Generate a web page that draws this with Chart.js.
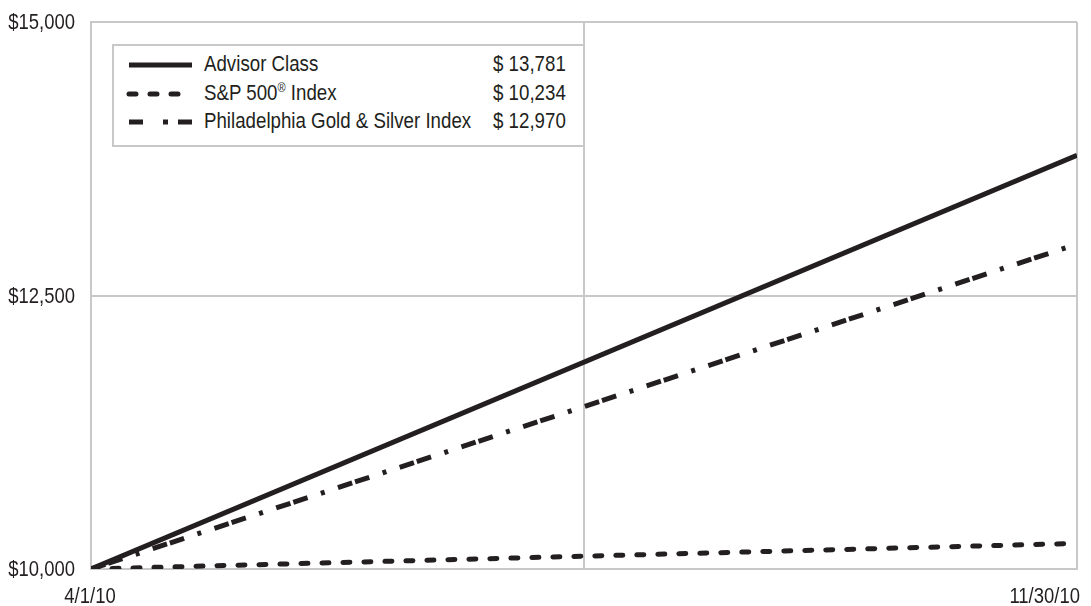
<!DOCTYPE html>
<html>
<head>
<meta charset="utf-8">
<script src="https://cdn.jsdelivr.net/npm/chart.js@4.4.1/dist/chart.umd.min.js"></script>
<style>
  body { margin: 0; background: #fff; }
  #wrap { position: relative; width: 1091px; height: 606px; }
  #legend {
    position: absolute; left: 112px; top: 44px; width: 469px; height: 99px;
    border: 2px solid #c8c8c8; background: #fff;
    font-family: 'Liberation Sans', Arial, sans-serif;
    font-size: 22px; color: #231f20;
  }
  .key-item { position: absolute; left: 0; height: 28px; width: 100%; }
  .key-item svg { position: absolute; left: 12px; top: 6px; }
  .key-item span { position: absolute; top: 0; white-space: nowrap; display: inline-block;
                   transform: scaleX(0.85); transform-origin: left center; }
  .key-item .name { left: 90px; }
  .key-item .val { left: 379px; }
  sup { font-size: 13px; line-height: 0; }
</style>
</head>
<body>
<div id="wrap">
  <canvas id="growthChart" width="1091" height="606"></canvas>
  <div id="legend"></div>
</div>
<script>
// values
const dates = ['4/1/10', '11/30/10'];
const advisor = [10000, 13781];
const sp500 = [10000, 10234];
const goldSilver = [10000, 12970];
const yTicks = [10000, 12500, 15000];

const seriesNames = ['Advisor Class', 'S&P 500<sup>®</sup> Index', 'Philadelphia Gold & Silver Index'];
const endValues = ['$ 13,781', '$ 10,234', '$ 12,970'];

const ink = '#231f20';
const gridGray = '#c8c8c8';
const dashes = [[], [7, 14], [15, 3, 15, 14, 4, 14]];
const legendDashes = ['none', '7 14', '14 20 5 10 16'];
const caps = ['butt', 'round', 'butt'];
const fontName = "'Liberation Sans', Arial, sans-serif";
const squeeze = 0.84; // no condensed font here, so squeeze the regular one

function toPoints(vals) {
    return vals.map((v, i) => ({x: i, y: v}));
}

function narrowText(c, text, x, y, align) {
    c.save();
    c.translate(x, y);
    c.scale(squeeze, 1);
    c.textAlign = align;
    c.fillText(text, 0, 0);
    c.restore();
}

// axis labels drawn at the positions the scales give
const axisLabels = {
    id: 'axisLabels',
    afterDraw(chart) {
        const c = chart.ctx;
        const xs = chart.scales.x, ys = chart.scales.y;
        c.save();
        c.fillStyle = ink;
        c.font = '22px ' + fontName;
        c.textBaseline = 'middle';
        ys.ticks.forEach(t => {
            narrowText(c, '$' + t.value.toLocaleString('en-US'), xs.left - 16, ys.getPixelForValue(t.value) + 1, 'right');
        });
        dates.forEach((d, i) => {
            const last = i === dates.length - 1;
            narrowText(c, d, xs.getPixelForValue(i) + (last ? 3 : -1), chart.chartArea.bottom + 28, last ? 'right' : 'center');
        });
        c.restore();
    }
};

var ctx = document.getElementById('growthChart').getContext('2d');
var myChart = new Chart(ctx, {
    type: 'line',
    data: {
        datasets: [advisor, sp500, goldSilver].map((vals, i) => ({
            label: seriesNames[i],
            data: toPoints(vals),
            borderColor: ink,
            borderWidth: 5,
            borderDash: dashes[i],
            borderCapStyle: caps[i],
            pointRadius: 0,
            fill: false
        }))
    },
    options: {
        responsive: false,
        animation: false,
        layout: { padding: { top: 22, right: 14, left: 0, bottom: 0 } },
        plugins: { legend: { display: false }, tooltip: { enabled: false } },
        scales: {
            x: {
                type: 'linear',
                min: 0, max: dates.length - 1,
                ticks: { display: false, stepSize: 0.5 },
                grid: { color: gridGray, lineWidth: 2, drawTicks: false },
                border: { color: gridGray, width: 2 },
                afterFit(scale) { scale.height = 37; }
            },
            y: {
                min: yTicks[0], max: yTicks[yTicks.length - 1],
                afterBuildTicks(scale) { scale.ticks = yTicks.map(v => ({value: v})); },
                ticks: { display: false },
                grid: { color: gridGray, lineWidth: 2, drawTicks: false },
                border: { color: gridGray, width: 2 },
                afterFit(scale) { scale.width = 91; }
            }
        }
    },
    plugins: [axisLabels]
});

function buildLegend() {
    const box = document.getElementById('legend');
    seriesNames.forEach((name, i) => {
        const item = document.createElement('div');
        item.className = 'key-item';
        item.style.top = (5 + i * 28.5) + 'px';
        item.innerHTML =
            '<svg width="70" height="16"><line x1="3" y1="8" x2="66" y2="8" stroke="' + ink +
            '" stroke-width="5" stroke-linecap="' + caps[i] + '" stroke-dasharray="' + legendDashes[i] +
            '"/></svg>' +
            '<span class="name">' + name + '</span><span class="val">' + endValues[i] + '</span>';
        box.appendChild(item);
    });
}
buildLegend();
</script>
</body>
</html>
